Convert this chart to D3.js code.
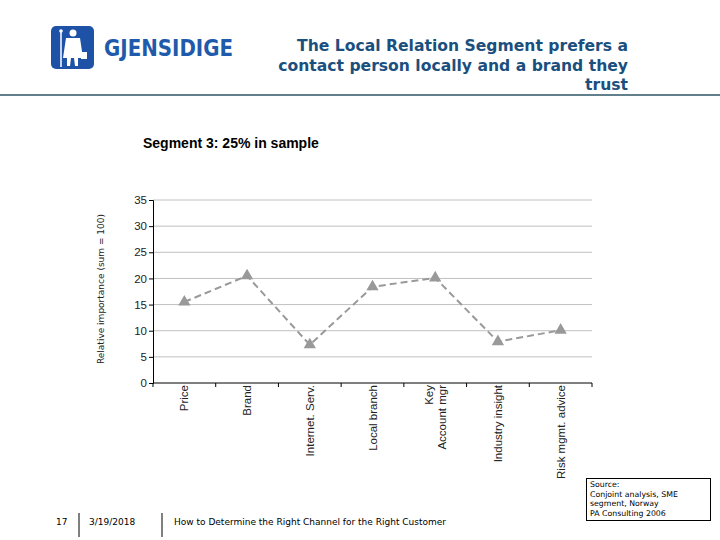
<!DOCTYPE html>
<html><head><meta charset="utf-8">
<script src="https://cdn.jsdelivr.net/npm/d3@7"></script>
<style>body{margin:0;background:#fff}svg{display:block}</style>
</head><body>
<script>
const categories = ["Price","Brand","Internet. Serv.","Local branch","Key\nAccount mgr","Industry insight","Risk mgmt. advice"];
const values = [15.5, 20.5, 7.3, 18.4, 20.1, 7.9, 10.1];
const yTicks = [0,5,10,15,20,25,30,35];
const titleLines = ["The Local Relation Segment prefers a","contact person locally and a brand they","trust"];
const subtitle = "Segment 3: 25% in sample";
const yLabel = "Relative importance (sum = 100)";
const sourceLines = ["Source:","Conjoint analysis, SME","segment, Norway","PA Consulting 2006"];
const footer = {page:"17", date:"3/19/2018", text:"How to Determine the Right Channel for the Right Customer"};

const svg = d3.select("body").append("svg").attr("width",720).attr("height",540);

// Header
const logo = svg.append("g");
logo.append("rect").attr("x",51).attr("y",26).attr("width",43).attr("height",43).attr("rx",5).attr("fill","#1d52a6");
logo.append("line").attr("x1",61).attr("y1",31).attr("x2",61).attr("y2",67).attr("stroke","#fff").attr("stroke-width",1.5);
logo.append("circle").attr("cx",61).attr("cy",31).attr("r",1.8).attr("fill","#fff");
logo.append("circle").attr("cx",73).attr("cy",33).attr("r",3.5).attr("fill","#fff");
logo.append("path").attr("d","M66,38 L80,38 L83,58 L78,58 L78,66 L75,66 L74,58 L71,58 L70,66 L67,66 L67,58 L63,58 Z").attr("fill","#fff");
logo.append("rect").attr("x",81).attr("y",52).attr("width",6).attr("height",7).attr("fill","#fff");
svg.append("text").attr("x",104).attr("y",56).text("GJENSIDIGE")
  .attr("font-family","DejaVu Sans, Verdana, sans-serif").attr("font-weight","bold").attr("font-size",23)
  .attr("fill","#1f5aab").attr("textLength",129).attr("lengthAdjust","spacingAndGlyphs");

const tt = svg.append("text").attr("font-family","DejaVu Sans, Verdana, sans-serif").attr("font-weight","bold")
  .attr("font-size",15.6).attr("fill","#1b4f7e").attr("text-anchor","end");
titleLines.forEach((l,i)=>tt.append("tspan").attr("x",628).attr("y",51+i*19.5).text(l));
svg.append("line").attr("x1",0).attr("x2",720).attr("y1",95).attr("y2",95).attr("stroke","#2e5566").attr("stroke-width",1.5);

svg.append("text").attr("x",143).attr("y",148).text(subtitle)
  .attr("font-family","Liberation Sans, Arial, sans-serif").attr("font-weight","bold").attr("font-size",14).attr("fill","#000");

// Chart
const m = {left:153, right:592, top:200, bottom:383};
const x = d3.scaleBand().domain(categories).range([m.left,m.right]).padding(0);
const y = d3.scaleLinear().domain([0,35]).range([m.bottom,m.top]);

svg.append("g").selectAll("line").data(yTicks.filter(d=>d>0)).join("line")
  .attr("x1",m.left).attr("x2",m.right).attr("y1",d=>y(d)).attr("y2",d=>y(d))
  .attr("stroke","#c0c0c0").attr("stroke-width",1);

const yAxis = svg.append("g").attr("transform",`translate(${m.left},0)`)
  .call(d3.axisLeft(y).tickValues(yTicks).tickSize(4).tickPadding(2));
yAxis.select(".domain").attr("stroke","#000");
yAxis.selectAll("text").attr("font-family","Liberation Sans, Arial, sans-serif").attr("font-size",11.5).attr("fill","#222");

const xAxis = svg.append("g").attr("transform",`translate(0,${m.bottom})`)
  .call(d3.axisBottom(x).tickSize(0).tickFormat(""));
xAxis.select(".domain").attr("stroke","#000").attr("d",`M${m.left},0H${m.right}`);
const bounds = categories.map(c=>x(c)).concat([m.right]);
svg.append("g").selectAll("line").data(bounds).join("line")
  .attr("x1",d=>d).attr("x2",d=>d).attr("y1",m.bottom).attr("y2",m.bottom+4).attr("stroke","#000");

categories.forEach(c=>{
  const cx = x(c)+x.bandwidth()/2;
  const lines = c.split("\n");
  const g = svg.append("text").attr("transform",`translate(${cx},${m.bottom+2}) rotate(-90)`)
    .attr("text-anchor","end").attr("font-family","Liberation Sans, Arial, sans-serif").attr("font-size",11.5).attr("fill","#222");
  lines.forEach((l,i)=>{
    g.append("tspan").attr("x",0).attr("y",(i-(lines.length-1)/2)*13+4).text(l);
  });
});

svg.append("text").attr("transform",`translate(104,289) rotate(-90)`).attr("text-anchor","middle")
  .attr("font-family","DejaVu Sans, Verdana, sans-serif").attr("font-size",9).attr("fill","#222").text(yLabel);

const line = d3.line().x((d,i)=>x(categories[i])+x.bandwidth()/2).y(d=>y(d));
svg.append("path").datum(values).attr("d",line).attr("fill","none")
  .attr("stroke","#999").attr("stroke-width",2).attr("stroke-dasharray","7,4");
svg.append("g").selectAll("path").data(values).join("path")
  .attr("transform",(d,i)=>`translate(${x(categories[i])+x.bandwidth()/2},${y(d)})`)
  .attr("d",d3.symbol().type(d3.symbolTriangle).size(65)).attr("fill","#999");

svg.append("rect").attr("x",586.5).attr("y",478.5).attr("width",124).attr("height",42).attr("fill","#fff").attr("stroke","#000");
const st = svg.append("text").attr("font-family","DejaVu Sans, Verdana, sans-serif").attr("font-size",7.8).attr("fill","#000");
sourceLines.forEach((l,i)=>st.append("tspan").attr("x",590).attr("y",487+i*9.5).text(l));

const ff = {"font-family":"DejaVu Sans, Verdana, sans-serif","font-size":9,"fill":"#000"};
function ft(xp,t){const e=svg.append("text").attr("x",xp).attr("y",525).text(t);Object.entries(ff).forEach(([k,v])=>e.attr(k,v));}
ft(56,footer.page); ft(89,footer.date); ft(174,footer.text);
[79,162].forEach(xx=>svg.append("line").attr("x1",xx).attr("x2",xx).attr("y1",513).attr("y2",537).attr("stroke","#000"));
</script>
</body></html>
